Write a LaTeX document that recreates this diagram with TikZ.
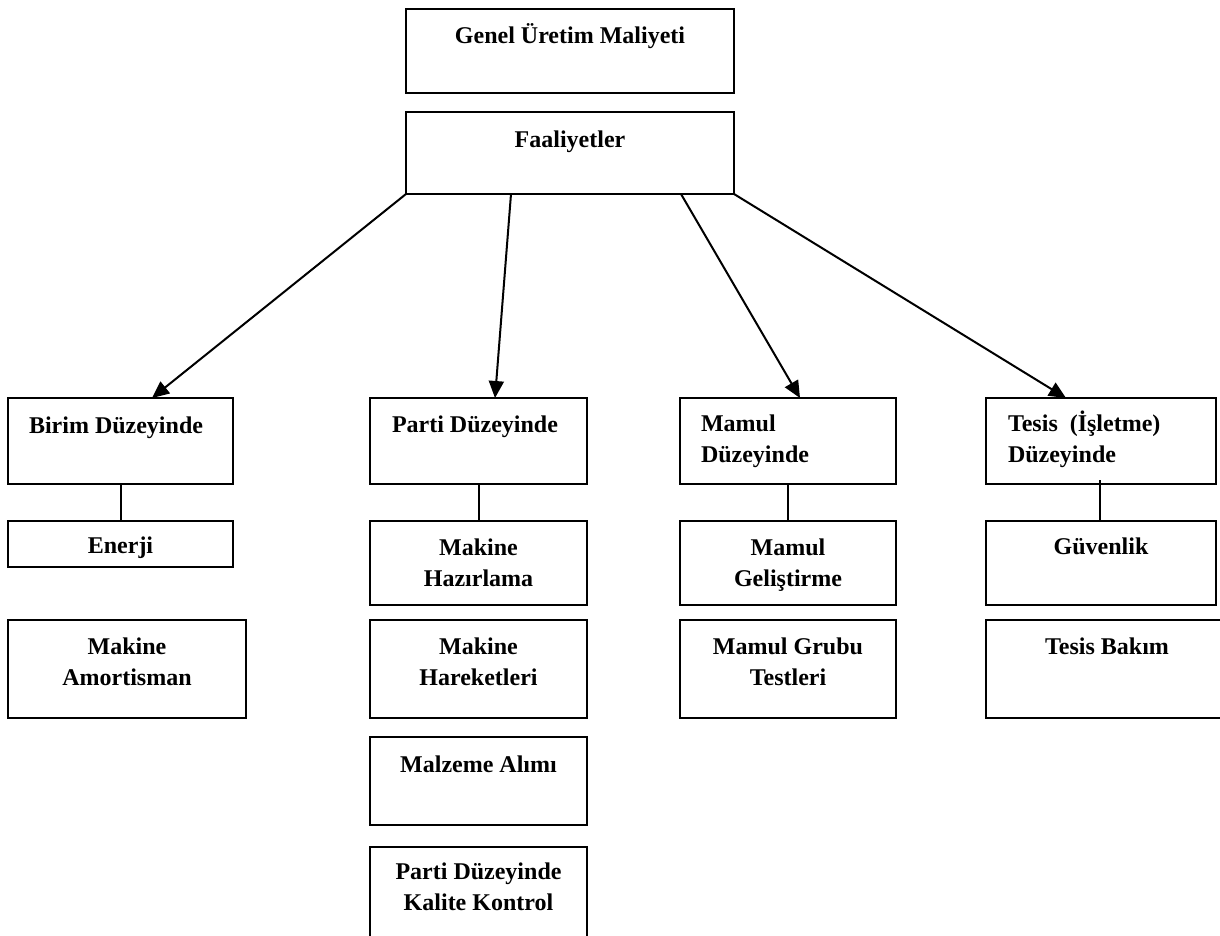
\documentclass[tikz,border=0pt]{standalone}
\usepackage{fontspec}
\setmainfont{Liberation Serif}
\usetikzlibrary{arrows.meta,calc}
\begin{document}
\begin{tikzpicture}[x=1pt,y=-1pt,
  box/.style={draw=black, line width=2pt, anchor=north west, inner sep=0pt, outer sep=0pt},
  txt/.style={font=\bfseries\fontsize{24}{31}\selectfont, inner sep=0pt, outer sep=0pt},
  ctxt/.style={txt, align=center, anchor=base},
  ltxt/.style={txt, align=left, anchor=base west},
  arr/.style={line width=2pt, -{Triangle[length=17pt,width=15pt]}},
  link/.style={line width=2pt}]
\useasboundingbox (0,0) rectangle (1220,935);
\clip (0,0) rectangle (1220,935);

% top of the hierarchy
\node[box, minimum width=328pt, minimum height=84pt] (genel) at (406,9) {};
\node[ctxt] (genelT) at ($(genel.north west)+(164,34)$) {Genel Üretim Maliyeti};
\node[box, minimum width=328pt, minimum height=82pt] (faal) at (406,112) {};
\node[ctxt] (faalT) at ($(faal.north west)+(164,35)$) {Faaliyetler};

% the four activity levels (base anchor sits on the last line)
\node[box, minimum width=225pt, minimum height=86pt] (birim) at (8,398) {};
\node[ltxt] (birimT) at ($(birim.north west)+(21,35)$) {Birim Düzeyinde};
\node[box, minimum width=217pt, minimum height=86pt] (parti) at (370,398) {};
\node[ltxt] (partiT) at ($(parti.north west)+(22,34)$) {Parti Düzeyinde};
\node[box, minimum width=216pt, minimum height=86pt] (mamul) at (680,398) {};
\node[ltxt] (mamulT) at ($(mamul.north west)+(21,64)$) {Mamul\\Düzeyinde};
\node[box, minimum width=230pt, minimum height=86pt] (tesis) at (986,398) {};
\node[ltxt] (tesisT) at ($(tesis.north west)+(22,64)$) {Tesis~ (İşletme)\\Düzeyinde};

% unit level activities
\node[box, minimum width=225pt, minimum height=46pt] (enerji) at (8,521) {};
\node[ctxt] (enerjiT) at ($(enerji.north west)+(112.5,32)$) {Enerji};
\node[box, minimum width=238pt, minimum height=98pt] (amort) at (8,620) {};
\node[ctxt] (amortT) at ($(amort.north west)+(119,65)$) {Makine\\Amortisman};

% batch level activities
\node[box, minimum width=217pt, minimum height=84pt] (hazir) at (370,521) {};
\node[ctxt] (hazirT) at ($(hazir.north west)+(108.5,65)$) {Makine\\Hazırlama};
\node[box, minimum width=217pt, minimum height=98pt] (hareket) at (370,620) {};
\node[ctxt] (hareketT) at ($(hareket.north west)+(108.5,65)$) {Makine\\Hareketleri};
\node[box, minimum width=217pt, minimum height=88pt] (malz) at (370,737) {};
\node[ctxt] (malzT) at ($(malz.north west)+(108.5,35)$) {Malzeme Alımı};
\node[box, minimum width=217pt, minimum height=120pt] (kalite) at (370,847) {};
\node[ctxt] (kaliteT) at ($(kalite.north west)+(108.5,63)$) {Parti Düzeyinde\\Kalite Kontrol};

% product level activities
\node[box, minimum width=216pt, minimum height=84pt] (gelis) at (680,521) {};
\node[ctxt] (gelisT) at ($(gelis.north west)+(108,65)$) {Mamul\\Geliştirme};
\node[box, minimum width=216pt, minimum height=98pt] (testler) at (680,620) {};
\node[ctxt] (testlerT) at ($(testler.north west)+(108,65)$) {Mamul Grubu\\Testleri};

% facility level activities
\node[box, minimum width=230pt, minimum height=84pt] (guven) at (986,521) {};
\node[ctxt] (guvenT) at ($(guven.north west)+(115,33)$) {Güvenlik};
\node[box, minimum width=242pt, minimum height=98pt] (bakim) at (986,620) {};
\node[ctxt] (bakimT) at ($(bakim.north west)+(121,34)$) {Tesis Bakım};

% arrows from the activities box
\draw[arr] (faal.south west) -- ($(birim.north west)+(144,0)$);
\draw[arr] ($(faal.south west)+(105,0)$) -- ($(parti.north west)+(125,0)$);
\draw[arr] ($(faal.south west)+(275,0)$) -- ($(mamul.north west)+(120,0)$);
\draw[arr] (faal.south east) -- ($(tesis.north west)+(80,0)$);

% vertical links to the first item of each level
\draw[link] (birim.south) -- (enerji.north);
\draw[link] (parti.south) -- (hazir.north);
\draw[link] (mamul.south) -- (gelis.north);
\draw[link] ($(tesis.south)+(-1,-4)$) -- ($(guven.north)+(-1,0)$);
\end{tikzpicture}
\end{document}
